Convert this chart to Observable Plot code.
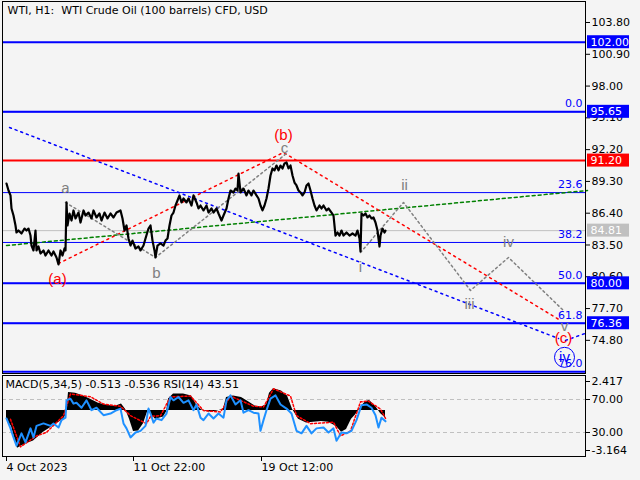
<!DOCTYPE html>
<html><head><meta charset="utf-8">
<script src="https://cdn.jsdelivr.net/npm/d3@7"></script>
<script src="https://cdn.jsdelivr.net/npm/@observablehq/plot@0.6"></script>
<style>
html,body{margin:0;padding:0;background:#f4f4f4;}
#wrap{position:relative;width:640px;height:480px;overflow:hidden;background:#f4f4f4;}
#wrap svg{position:absolute;left:0;}
svg text{white-space:pre;}
</style></head><body><div id="wrap"></div>
<script>
// ---------------- data ----------------
const title = "WTI, H1:  WTI Crude Oil (100 barrels) CFD, USD";
const macdTitle = "MACD(5,34,5) -0.513 -0.536 RSI(14) 43.51";
const priceTicks = [103.80, 100.90, 98.00, 95.10, 92.20, 89.30, 86.40, 83.50, 80.60, 77.70, 74.80];
const timeTickBars = [3, 130, 258];
const timeTickLabels = ["4 Oct 2023", "11 Oct 22:00", "19 Oct 12:00"];

const priceBars = [
  3,5,7,8,10,12,13,15,18,21,
  23,25,27,28,30,32,33,35,37,40,
  42,45,48,50,53,55,57,59,61,62,
  63,64,66,68,70,72,75,77,80,82,
  85,88,90,93,96,98,101,104,107,110,
  113,117,119,121,123,125,127,129,132,135,
  137,140,142,145,147,149,151,152,154,157,
  160,162,164,166,168,170,172,174,176,178,
  180,183,185,188,190,193,195,197,200,203,
  205,208,210,213,215,218,220,223,225,227,
  230,232,234,235,237,240,243,245,248,250,
  253,255,257,259,261,263,265,267,269,271,
  273,275,277,279,281,283,285,287,289,291,
  293,295,297,299,301,303,305,307,309,311,
  313,316,318,320,323,325,328,330,332,334,
  336,338,340,343,346,349,352,354,356,357,
  358,360,362,364,366,368,370,372,374,376,
  377,379,381,382];
const priceCloses = [
  89.11,88.47,88.02,86.83,86.19,85.28,84.64,84.82,84.55,85.00,
  84.82,85.00,84.36,83.45,83.00,84.82,83.00,83.36,82.72,83.00,
  82.54,83.00,82.54,82.91,82.36,81.72,83.00,82.54,83.18,83.00,
  87.38,85.28,86.37,85.73,86.65,85.92,86.46,85.55,86.65,86.19,
  86.46,85.92,86.65,86.01,86.37,85.73,86.46,85.92,86.37,86.01,
  86.46,86.65,85.92,84.82,85.28,84.09,83.45,83.90,83.18,83.36,
  83.00,83.45,84.09,85.00,85.28,83.90,83.00,82.36,83.45,83.64,
  83.45,83.90,84.09,85.28,86.19,86.46,87.10,87.56,88.02,87.38,
  87.74,87.38,87.74,87.10,88.02,87.38,86.83,87.10,86.65,87.10,
  86.46,86.83,86.46,86.83,86.37,85.73,86.19,86.83,87.74,88.47,
  88.29,88.65,88.47,90.02,88.29,88.65,88.02,88.47,88.02,88.47,
  88.02,87.74,87.10,86.65,87.10,87.74,88.65,89.84,90.48,90.30,
  90.75,90.30,90.75,90.48,90.94,91.03,90.48,90.75,89.84,89.20,
  88.93,88.47,88.29,88.02,88.29,88.93,89.11,88.47,87.74,87.10,
  86.65,87.10,86.83,87.10,86.65,86.83,86.46,86.19,84.36,84.64,
  84.36,84.82,84.36,84.64,84.36,84.55,84.36,84.82,84.09,82.91,
  86.37,86.19,86.37,86.01,86.19,85.92,86.01,85.55,84.82,83.36,
  84.36,85.00,84.64,84.81];

// horizontal price lines with axis tags
const tagPrices = [102.00, 95.65, 91.20, 84.81, 80.00, 76.36];
const tagKinds  = ["level", "level", "resistance", "bid", "level", "level"];
// Fibonacci retracement
const fibLabels = ["0.0", "23.6", "38.2", "50.0", "61.8", "76.0"];
const fibPrices = [95.65, 88.28, 83.73, 80.00, 76.36, 71.93];

// wave lines
const redWaveBars = [55, 280, 557];
const redWavePrices = [81.81, 91.94, 76.61];
const blueWaveBars = [6, 555];
const blueWavePrices = [94.22, 74.97];
const blueNextBars = [562, 584];
const blueNextPrices = [74.79, 75.51];
const greenTrendBars = [3, 584];
const greenTrendPrices = [83.45, 88.47];
const grayAbcBars = [62, 152, 283];
const grayAbcPrices = [87.38, 82.36, 91.85];
const grayImpulseBars = [357, 400, 467, 505, 560];
const grayImpulsePrices = [82.81, 87.38, 79.35, 82.36, 77.52];

// wave labels
const waveLabels = ["(a)", "a", "b", "(b)", "c", "i", "ii", "iii", "iv", "v", "(c)", "iv"];
const waveBars   = [54, 62, 153, 280, 281, 357, 401, 466, 505, 561, 560, 561];
const wavePrices = [80.35, 88.65, 80.90, 93.49, 92.30, 81.45, 88.93, 78.07, 83.73, 76.10, 74.97, 73.25];
const waveDegrees = ["intermediate","minor","minor","intermediate","minor","minor","minor","minor","minor","minor","intermediate","primary"];

// MACD histogram, signal, RSI
const macdBars = [3,8,14,22,30,40,50,60,63,65,72,80,88,95,105,112,118,122,126,130,135,140,145,148,152,160,163,165,170,180,188,193,198,205,213,220,223,230,238,245,252,258,263,266,270,278,284,289,295,303,310,318,325,333,338,343,348,352,358,362,366,372,377,382];
const macdValues = [-0.6,-1.1,-2.6,-2.3,-2.1,-1.5,-1.05,-0.6,-0.25,1.25,1.2,1.0,0.75,0.5,0.35,0.3,0.45,0.1,-0.6,-1.45,-1.4,-0.9,0.1,-0.3,-0.6,-0.45,-0.1,0.8,1.15,1.15,1.0,0.4,0.05,-0.1,-0.05,0.1,0.9,1.0,0.9,0.6,0.3,0.25,0.4,1.2,1.5,1.35,1.0,0.1,-0.6,-0.85,-0.8,-0.75,-0.8,-1.1,-1.5,-1.3,-0.6,-0.3,0.3,0.6,0.7,0.3,-0.2,-0.513];
const signalBars = [7,17,33,43,60,67,87,100,117,127,143,147,157,167,187,200,217,227,250,260,270,287,293,307,330,337,347,357,365,377,382];
const signalValues = [-0.6,-2.5,-1.75,-1.5,-0.35,1.15,0.95,0.45,0.3,-0.35,-0.9,-0.4,-0.35,0.95,1.0,0,-0.1,1.0,0.3,0.25,1.5,1.0,-0.35,-0.9,-0.8,-1.75,-1.4,0.6,0.65,0.1,-0.536];
const rsiBars = [3,7,10,13,18,22,27,30,33,40,47,50,55,58,62,63,67,70,73,78,83,88,93,100,107,113,117,120,123,127,132,137,142,145,147,150,153,158,163,167,170,175,180,185,190,193,197,200,205,210,215,220,223,227,232,237,240,245,250,255,257,260,263,267,272,277,283,288,293,298,303,308,313,320,325,330,333,338,343,348,353,358,363,368,372,375,378,382];
const rsiValues = [47,35,24,14,29,18,35,24,38,41,38,41,36,45,48,69,71,65,66,60,69,57,60,51,53,57,59,41,35,24,30,32,38,59,53,42,47,45,53,73,69,73,66,69,57,64,48,45,53,47,53,48,69,75,64,69,54,57,54,53,32,45,57,71,75,64,59,53,32,29,38,29,35,36,30,35,20,30,29,32,45,63,64,60,51,36,48,43.51];
const rsiLevels = [70, 30];
const macdRange = [2.417, -3.164];

// ---------------- helpers ----------------
const pts = (xs, ys) => xs.map((x, i) => ({x, y: ys[i]}));
const BLUE = "#0000ff", RED = "#ff0000", GRAY = "#808080";
const font = {fontFamily: "DejaVu Sans", fontSize: "11px", background: "transparent", overflow: "visible"};
const xDomain = [-1, 582];
const tagFill = {level: BLUE, resistance: RED, bid: "#c0c0c0"};
const degreeColor = {intermediate: RED, minor: GRAY, primary: BLUE};
const tags = tagPrices.map((p, i) => ({p, kind: tagKinds[i]}));
const fibs = fibPrices.map((p, i) => ({p, label: fibLabels[i]}));
const waves = waveLabels.map((t, i) => ({t, x: waveBars[i], y: wavePrices[i], deg: waveDegrees[i]}));
const wrap = document.getElementById("wrap");
const place = (svg, top) => { svg.style.top = top + "px"; wrap.appendChild(svg); };

// ---------------- main price panel ----------------
const main = Plot.plot({
  width: 640, height: 374,
  marginLeft: 2, marginRight: 55, marginTop: 1, marginBottom: 1,
  x: {domain: xDomain, axis: null},
  y: {domain: [71.774, 105.716], axis: null},
  style: font,
  marks: [
    Plot.ruleY(fibs, {y: "p", stroke: BLUE, strokeWidth: d => d.label === "76.0" ? 2 : 1}),
    Plot.ruleY(tags, {y: "p", stroke: d => tagFill[d.kind], strokeWidth: d => d.kind === "bid" ? 1 : 2}),
    Plot.line(pts(greenTrendBars, greenTrendPrices), {x: "x", y: "y", stroke: "#008000", strokeDasharray: "3,3"}),
    Plot.line(pts(blueWaveBars, blueWavePrices), {x: "x", y: "y", stroke: BLUE, strokeDasharray: "2,4"}),
    Plot.line(pts(blueNextBars, blueNextPrices), {x: "x", y: "y", stroke: BLUE, strokeDasharray: "2,4"}),
    Plot.line(pts(redWaveBars, redWavePrices), {x: "x", y: "y", stroke: RED, strokeDasharray: "2,4"}),
    Plot.line(pts(grayAbcBars, grayAbcPrices), {x: "x", y: "y", stroke: GRAY, strokeDasharray: "2,3"}),
    Plot.line(pts(grayImpulseBars, grayImpulsePrices), {x: "x", y: "y", stroke: GRAY, strokeDasharray: "2,3"}),
    Plot.line(pts(priceBars, priceCloses), {x: "x", y: "y", stroke: "black", strokeWidth: 2.2}),
    Plot.text(fibs, {y: "p", text: "label", frameAnchor: "right", textAnchor: "end", dx: -3, dy: -8, fill: BLUE, fontSize: 11}),
    Plot.text(waves, {x: "x", y: "y", text: "t", fill: d => degreeColor[d.deg], fontSize: 15, fontFamily: "Liberation Sans"}),
    Plot.dot(waves.filter(d => d.deg === "primary"), {x: "x", y: "y", r: 10, stroke: BLUE, fill: "none", strokeWidth: 1}),
    Plot.text([title], {frameAnchor: "top-left", textAnchor: "start", lineAnchor: "top", dx: 5, dy: 5, fill: "black"}),
    Plot.axisY({anchor: "right", label: null, ticks: priceTicks, tickFormat: d => d.toFixed(2), tickSize: 4, tickPadding: 2, stroke: "black", fill: "black"}),
    Plot.rect(tags, {x1: () => 584, x2: () => 626, y1: "p", y2: "p", insetTop: -6.5, insetBottom: -6.5, fill: d => tagFill[d.kind]}),
    Plot.text(tags, {y: "p", text: d => d.p.toFixed(2), frameAnchor: "right", textAnchor: "start", dx: 5, fill: "white"}),
    Plot.frame({stroke: "black"})
  ]
});
place(main, 0);

// ---------------- indicator panel ----------------
const panel = (yDomain, marks) => Plot.plot({
  width: 640, height: 106,
  marginLeft: 2, marginRight: 55, marginTop: 1, marginBottom: 24,
  x: {domain: xDomain, axis: null},
  y: {domain: yDomain, axis: null},
  style: font,
  marks
});
const rsiDomain = [0.9, 99.1];

place(panel(rsiDomain, [
  Plot.ruleY(rsiLevels, {y: d => d, stroke: "#c0c0c0", strokeDasharray: "4,3"}),
  Plot.axisY({anchor: "right", label: null, ticks: rsiLevels, tickFormat: d => d.toFixed(2), tickSize: 4, tickPadding: 2, stroke: "black", fill: "black"})
]), 374);

place(panel(macdRange.slice().reverse(), [
  Plot.areaY(pts(macdBars, macdValues), {x: "x", y: "y", fill: "black"}),
  Plot.line(pts(signalBars, signalValues), {x: "x", y: "y", stroke: RED, strokeDasharray: "2,2"}),
  Plot.axisY({anchor: "right", label: null, ticks: [macdRange[0]], tickFormat: d => d.toFixed(3), tickSize: 4, tickPadding: 2, dy: 6, stroke: "black", fill: "black"}),
  Plot.axisY({anchor: "right", label: null, ticks: [macdRange[1]], tickFormat: d => d.toFixed(3), tickSize: 4, tickPadding: 2, dy: -6, stroke: "black", fill: "black"}),
  Plot.axisX({anchor: "bottom", label: null, ticks: timeTickBars, tickFormat: (d, i) => timeTickLabels[i], textAnchor: "start", tickSize: 5, tickPadding: 2, stroke: "black", fill: "black"}),
  Plot.frame({stroke: "black"})
]), 374);

place(panel(rsiDomain, [
  Plot.line(pts(rsiBars, rsiValues), {x: "x", y: "y", stroke: "#1e90ff", strokeWidth: 2}),
  Plot.text([macdTitle], {frameAnchor: "top-left", textAnchor: "start", lineAnchor: "top", dx: 3, dy: 5, fill: "black"})
]), 374);
</script></body></html>
